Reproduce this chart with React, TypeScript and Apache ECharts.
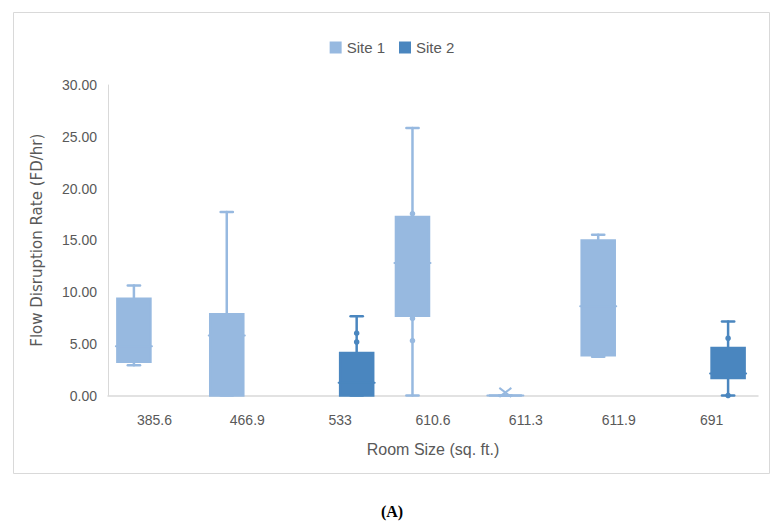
import React, { useEffect, useRef } from 'react';
import * as echarts from 'echarts';

const categories = ['385.6', '466.9', '533', '610.6', '611.3', '611.9', '691'];
const yTicks = [0, 5, 10, 15, 20, 25, 30];

// Site 1 (null where no box)
const site1Min = [2.93, 0, null, 0, 0, 3.74, null];
const site1Q1 = [3.25, 0, null, 7.71, 0, 3.9, null];
const site1Median = [4.75, 5.79, null, 12.79, 0, 8.62, null];
const site1Q3 = [9.34, 7.84, null, 17.25, 0, 14.97, null];
const site1Max = [10.64, 17.73, null, 25.84, 0, 15.52, null];
const site1Mean = [null, null, null, null, 0.3, null, null];
const site1Points: [number, number][] = [[3, 17.57], [3, 7.45], [3, 5.3]];

// Site 2
const site2Min = [null, null, 0, null, null, null, 0];
const site2Q1 = [null, null, 0, null, null, null, 1.69];
const site2Median = [null, null, 1.24, null, null, null, 2.12];
const site2Q3 = [null, null, 4.1, null, null, null, 4.59];
const site2Max = [null, null, 7.65, null, null, null, 7.16];
const site2Mean = [null, null, null, null, null, null, null];
const site2Points: [number, number][] = [[2, 6.02], [2, 5.17], [6, 5.53], [6, 0]];

const SITE1_COLOR = '#97B9E0';
const SITE2_COLOR = '#4A86BF';
const SITE1_OFFSET = -0.221;
const SITE2_OFFSET = 0.178;

function buildBoxes(mins: any[], q1s: any[], meds: any[], q3s: any[], maxs: any[]) {
  const out: number[][] = [];
  categories.forEach((_, i) => {
    if (mins[i] == null) return;
    out.push([i, mins[i], q1s[i], meds[i], q3s[i], maxs[i]]);
  });
  return out;
}

function makeBoxRender(offsetFrac: number, color: string, means: any[]) {
  return (params: any, api: any) => {
    const cat = api.value(0);
    const band = api.size([1, 0])[0];
    const cx = api.coord([cat, 0])[0] + offsetFrac * band;
    const py = (v: number) => api.coord([cat, v])[1];
    const half = band * 0.178;
    const cap = band * 0.066;
    const yMin = py(api.value(1));
    const yQ1 = py(api.value(2));
    const yMed = py(api.value(3));
    const yQ3 = py(api.value(4));
    const yMax = py(api.value(5));
    const ls = { stroke: color, lineWidth: 2.5, lineCap: 'round' };
    const children: any[] = [
      { type: 'line', shape: { x1: cx, y1: yQ3, x2: cx, y2: yMax }, style: ls },
      { type: 'line', shape: { x1: cx, y1: yQ1, x2: cx, y2: yMin }, style: ls },
      { type: 'line', shape: { x1: cx - cap, y1: yMax, x2: cx + cap, y2: yMax }, style: ls },
      { type: 'line', shape: { x1: cx - cap, y1: yMin, x2: cx + cap, y2: yMin }, style: ls },
      {
        type: 'rect',
        shape: { x: cx - half, y: yQ3, width: 2 * half, height: yQ1 - yQ3 },
        style: { fill: color, stroke: color, lineWidth: 2.5 },
      },
      {
        type: 'line',
        shape: { x1: cx - half - 1.5, y1: yMed, x2: cx + half + 1.5, y2: yMed },
        style: { stroke: color, lineWidth: 2, lineCap: 'round' },
      },
    ];
    const m = means[cat];
    if (m != null) {
      const my = py(m);
      const mx = 6;
      const myh = 4.5;
      children.push(
        { type: 'line', shape: { x1: cx - mx, y1: my - myh, x2: cx + mx, y2: my + myh }, style: { stroke: color, lineWidth: 2 } },
        { type: 'line', shape: { x1: cx - mx, y1: my + myh, x2: cx + mx, y2: my - myh }, style: { stroke: color, lineWidth: 2 } }
      );
    }
    return { type: 'group', children };
  };
}

function makePointRender(offsetFrac: number, color: string) {
  return (params: any, api: any) => {
    const cat = api.value(0);
    const band = api.size([1, 0])[0];
    const p = api.coord([cat, api.value(1)]);
    return {
      type: 'circle',
      shape: { cx: p[0] + offsetFrac * band, cy: p[1], r: 2.8 },
      style: { fill: color },
    };
  };
}

export default function App() {
  const ref = useRef<HTMLDivElement>(null);
  useEffect(() => {
    document.body.style.margin = '0';
    if (!ref.current) return;
    const chart = echarts.init(ref.current, null, { renderer: 'svg' });
    const font = '"Liberation Sans", Arial, sans-serif';
    const labelColor = '#595959';
    chart.setOption({
      animation: false,
      backgroundColor: '#ffffff',
      legend: {
        data: [
          { name: 'Site 1', icon: 'rect' },
          { name: 'Site 2', icon: 'rect' },
        ],
        left: 'center',
        top: 35,
        itemWidth: 12,
        itemHeight: 12,
        itemGap: 14,
        textStyle: { fontSize: 15, color: labelColor, fontFamily: font },
      },
      grid: { left: 108, right: 26, top: 85, bottom: 133.5, containLabel: false },
      xAxis: {
        type: 'category',
        data: categories,
        name: 'Room Size (sq. ft.)',
        nameLocation: 'middle',
        nameGap: 46,
        nameTextStyle: { fontSize: 16, color: labelColor, fontFamily: font },
        axisLine: { lineStyle: { color: '#D9D9D9', width: 1.5 } },
        axisTick: { show: false },
        axisLabel: { fontSize: 14, color: labelColor, fontFamily: font, margin: 17 },
      },
      yAxis: {
        type: 'value',
        min: yTicks[0],
        max: yTicks[yTicks.length - 1],
        interval: 5,
        name: 'Flow Disruption Rate (FD/hr)',
        nameLocation: 'middle',
        nameGap: 64,
        nameTextStyle: { fontSize: 15, color: labelColor, fontFamily: '"DejaVu Sans", Verdana, sans-serif' },
        axisLine: { show: true, lineStyle: { color: '#D9D9D9', width: 1 } },
        axisTick: { show: false },
        splitLine: { show: false },
        axisLabel: {
          fontSize: 14,
          color: labelColor,
          fontFamily: font,
          margin: 11,
          formatter: (v: number) => v.toFixed(2),
        },
      },
      series: [
        {
          type: 'custom',
          name: 'Site 1',
          itemStyle: { color: SITE1_COLOR },
          encode: { x: 0, y: [1, 2, 3, 4, 5] },
          renderItem: makeBoxRender(SITE1_OFFSET, SITE1_COLOR, site1Mean),
          data: buildBoxes(site1Min, site1Q1, site1Median, site1Q3, site1Max),
          z: 2,
        },
        {
          type: 'custom',
          name: 'Site 2',
          itemStyle: { color: SITE2_COLOR },
          encode: { x: 0, y: [1, 2, 3, 4, 5] },
          renderItem: makeBoxRender(SITE2_OFFSET, SITE2_COLOR, site2Mean),
          data: buildBoxes(site2Min, site2Q1, site2Median, site2Q3, site2Max),
          z: 2,
        },
        {
          type: 'custom',
          name: 'Site 1',
          itemStyle: { color: SITE1_COLOR },
          encode: { x: 0, y: 1 },
          renderItem: makePointRender(SITE1_OFFSET, SITE1_COLOR),
          data: site1Points,
          z: 3,
        },
        {
          type: 'custom',
          name: 'Site 2',
          itemStyle: { color: SITE2_COLOR },
          encode: { x: 0, y: 1 },
          renderItem: makePointRender(SITE2_OFFSET, SITE2_COLOR),
          data: site2Points,
          z: 3,
        },
      ],
      graphic: [
        {
          type: 'rect',
          shape: { x: 13.5, y: 12.5, width: 756, height: 461 },
          style: { fill: 'none', stroke: '#D9D9D9', lineWidth: 1 },
          silent: true,
          z: -1,
        },
        {
          type: 'text',
          x: 392,
          y: 511,
          style: {
            text: '(A)',
            font: 'bold 16px "Liberation Serif", "Times New Roman", serif',
            fill: '#000000',
            align: 'center',
            verticalAlign: 'middle',
          },
        },
      ],
    });
    return () => chart.dispose();
  }, []);
  return <div ref={ref} style={{ width: 784, height: 529 }} />;
}
